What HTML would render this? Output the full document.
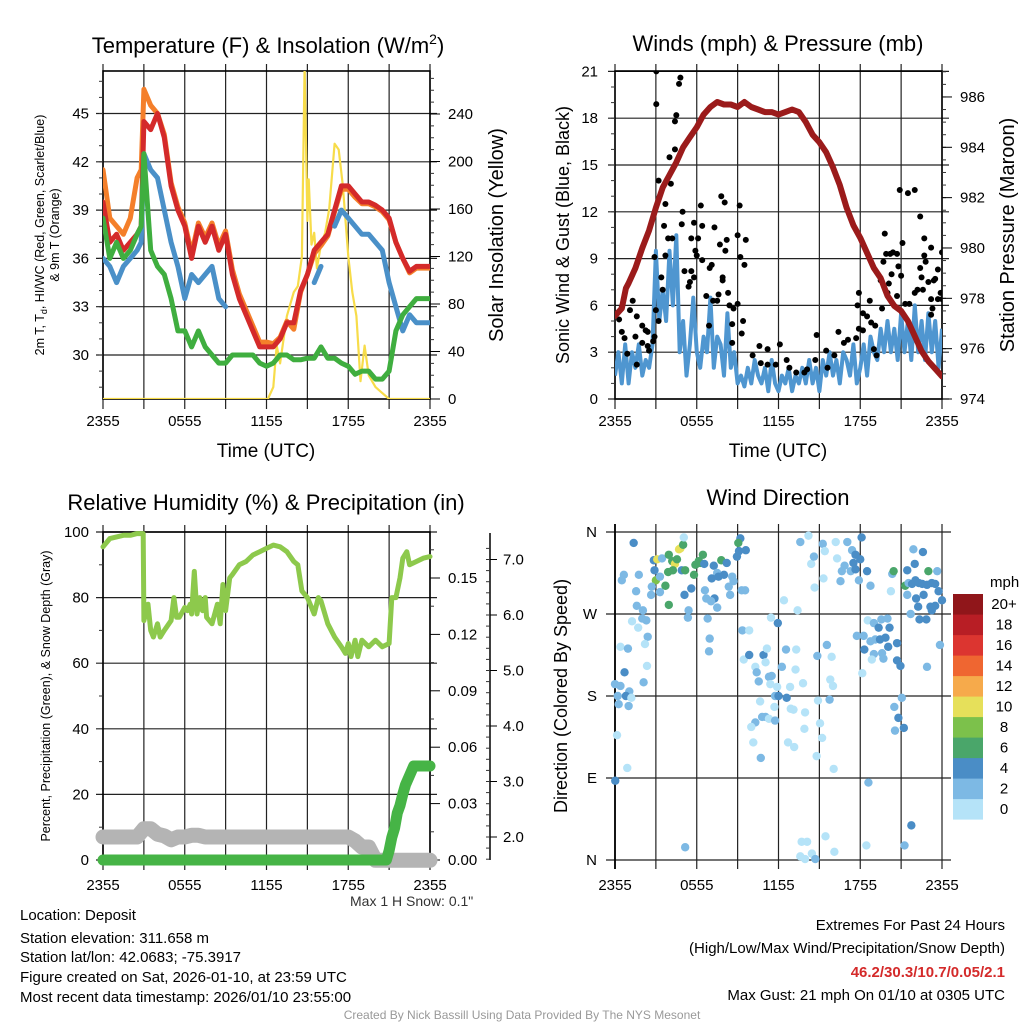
<!DOCTYPE html>
<html><head><meta charset="utf-8"><style>
html,body{margin:0;padding:0;background:#fff}
svg{display:block;font-family:"Liberation Sans",Arial,sans-serif}
</style></head><body>
<svg id="fig" width="1024" height="1024" viewBox="0 0 1024 1024" xmlns="http://www.w3.org/2000/svg">
<defs>
<clipPath id="c1"><rect x="103" y="71" width="327" height="328"/></clipPath>
<clipPath id="c2"><rect x="615" y="71" width="327" height="328"/></clipPath>
<clipPath id="c3"><rect x="90" y="520" width="355" height="355"/></clipPath>
<clipPath id="c4"><rect x="605" y="524" width="348" height="345"/></clipPath>
</defs>
<g id="p1"></g>
<g id="p2"></g>
<g id="p3"></g>
<g id="p4"></g>

<text x="268" y="53" font-size="22" text-anchor="middle">Temperature (F) &amp; Insolation (W/m<tspan font-size="14" dy="-9">2</tspan><tspan dy="9">)</tspan></text>
<text x="778" y="51" font-size="22" text-anchor="middle">Winds (mph) &amp; Pressure (mb)</text>
<text x="266" y="510" font-size="22" text-anchor="middle">Relative Humidity (%) &amp; Precipitation (in)</text>
<text x="778" y="505" font-size="22" text-anchor="middle">Wind Direction</text>

<text x="266" y="457" font-size="19" text-anchor="middle">Time (UTC)</text>
<text x="778" y="457" font-size="19" text-anchor="middle">Time (UTC)</text>

<text transform="translate(44,235) rotate(-90)" font-size="12.5" text-anchor="middle">2m T, T<tspan font-size="9" dy="3">d</tspan><tspan dy="-3">, HI/WC (Red, Green, Scarlet/Blue)</tspan></text>
<text transform="translate(59,235) rotate(-90)" font-size="12.5" text-anchor="middle">&amp; 9m T (Orange)</text>
<text transform="translate(503,235) rotate(-90)" font-size="20" text-anchor="middle">Solar Insolation (Yellow)</text>
<text transform="translate(569,235) rotate(-90)" font-size="18" text-anchor="middle">Sonic Wind &amp; Gust (Blue, Black)</text>
<text transform="translate(1014,235) rotate(-90)" font-size="20" text-anchor="middle">Station Pressure (Maroon)</text>
<text transform="translate(50,696) rotate(-90)" font-size="12.5" text-anchor="middle">Percent, Precipitation (Green), &amp; Snow Depth (Gray)</text>
<text transform="translate(567,696) rotate(-90)" font-size="18" text-anchor="middle">Direction (Colored By Speed)</text>

<text x="350" y="906" font-size="14" fill="#333">Max 1 H Snow: 0.1"</text>
<g font-size="15">
<text x="20" y="920">Location: Deposit</text>
<text x="20" y="943">Station elevation: 311.658 m</text>
<text x="20" y="962">Station lat/lon: 42.0683; -75.3917</text>
<text x="20" y="982">Figure created on Sat, 2026-01-10, at 23:59 UTC</text>
<text x="20" y="1002">Most recent data timestamp: 2026/01/10 23:55:00</text>
</g>
<g font-size="15" text-anchor="end">
<text x="1005" y="930">Extremes For Past 24 Hours</text>
<text x="1005" y="953">(High/Low/Max Wind/Precipitation/Snow Depth)</text>
<text x="1005" y="977" fill="#d42a2a" font-weight="bold">46.2/30.3/10.7/0.05/2.1</text>
<text x="1005" y="1000">Max Gust: 21 mph On 01/10 at 0305 UTC</text>
</g>
<text x="522" y="1019" font-size="12" fill="#999" text-anchor="middle">Created By Nick Bassill Using Data Provided By The NYS Mesonet</text>
</svg>
<script>
// ---------- data ----------
const timeLabels = ["2355","0555","1155","1755","2355"];
const tempTicks = [30,33,36,39,42,45];
const solarTicks = [0,40,80,120,160,200,240];
const windTicks = [0,3,6,9,12,15,18,21];
const presTicks = [974,976,978,980,982,984,986];
const rhTicks = [0,20,40,60,80,100];
const precipTicks = ["0.00","0.03","0.06","0.09","0.12","0.15"];
const snowTicks = ["2.0","3.0","4.0","5.0","6.0","7.0"];
const dirLabels = ["N","E","S","W","N"];
const speedLabels = ["0","2","4","6","8","10","12","14","16","18","20+"];

const tempHours = [0,0.5,1,1.5,2,2.5,2.8,3,3.5,4,4.5,5,5.5,6,6.5,7,7.5,8,8.5,9,9.5,10,10.5,11,11.5,12,12.5,13,13.5,14,14.5,15,15.5,16,16.5,17,17.5,18,18.5,19,19.5,20,20.5,21,21.5,22,22.5,23,23.5,24];
const tempRed = [39.5,37,37.5,36.5,37,37.5,38,44.5,44,45,43.5,40.5,39,38,36,38,37,38,36.5,37.5,35,33.5,32.5,31.5,30.5,30.5,30.5,31,32,32,34,35,36.5,37,37.5,39,40.5,40.5,40,39.5,39.5,39.3,39,38.5,37,36,35.2,35.5,35.5,35.5];
const tempOrange = [41.5,38.5,38,37.5,38.5,41,41.5,46.5,45.5,45,43.7,40.7,39.2,38.2,36.3,38.2,37.3,38.2,36.8,37.7,35.3,33.8,32.8,31.8,30.8,30.8,30.7,31.1,32.1,31.6,33.9,35,36.3,36.8,37.4,38.9,40.3,40.3,39.8,39.4,39.4,39.2,38.9,38.4,37,36,35.1,35.4,35.4,35.4];
const tempBlue = [36,35.5,34.5,35.5,36,36.5,37,42.5,41.5,41,39,37,35.5,33.5,35,34.5,35,35.5,33.5,33,null,null,null,null,null,null,null,null,null,null,null,null,34.5,35.5,null,38,39,38.5,38,37.5,37.5,37,36.5,34.5,33,31.5,32.5,32,32,32];
const tempGreen = [38.5,36,37,36,36.5,37.5,38,42.5,36.5,35.5,35,33.5,31.5,31.5,30.5,31.5,30.5,30,29.5,29.5,30,30,30,30,29.5,29.3,29.5,30,30,29.7,29.7,29.8,29.8,30.5,29.8,29.8,29.5,29.3,28.8,29,29,28.5,28.5,29,31.5,32.5,33,33.5,33.5,33.5];
const solarHours = [0,12.1,12.5,12.75,13,13.5,14,14.3,14.6,14.8,15,15.1,15.3,15.5,15.7,16,16.3,16.6,17,17.3,17.6,18,18.3,18.6,18.9,19.2,19.5,20,20.5,21,24];
const solarVals = [0,0,10,45,30,70,90,95,120,280,150,185,130,140,110,130,140,160,215,210,180,120,90,70,15,45,20,10,5,0,0];

const presHours = [0,0.5,0.8,1,1.5,2,2.5,3,3.5,4,4.5,5,5.5,6,6.5,7,7.5,8,8.5,9,9.5,10,10.5,11,11.5,12,12.5,13,13.5,14,14.5,15,15.5,16,16.5,17,17.5,18,18.5,19,19.5,20,20.5,21,21.5,22,22.5,23,23.5,24];
const presVals = [977.3,977.6,978.4,978.6,979.2,980,980.7,981.6,982.4,982.9,983.4,984,984.4,984.8,985.3,985.6,985.8,985.7,985.7,985.6,985.8,985.6,985.5,985.4,985.4,985.3,985.4,985.5,985.4,985,984.5,984.2,983.8,983.2,982.5,981.6,980.9,980.4,979.8,979.2,978.8,978.1,977.7,977.5,977.1,976.5,975.9,975.5,975.2,974.9];
const windVals = [1.5,3,1,3.5,1,3,2,3.5,1.5,2.5,2,3.5,9.5,5,7,5,9.5,6,10.5,3,5,1.5,3.5,6.5,3,2,4,3,6.5,2,4,3.5,1.5,5.5,2,3,1,1.5,0.8,2,1,2.5,1.5,1,2,0.5,2.5,1,0.5,1.5,1,2,0.5,1.5,1,2,1,2.5,1,2,0.5,2.5,1.5,3,1.5,2.5,1,3,2.5,1.5,3.5,1,2,3.5,1.5,4,3,2.5,4.5,3,5,3,4.5,2.5,5.5,3,5,2.5,6,3,5,2.5,5.5,3,5,2,4.5];
const gustHours = [3.03,3.03,4.8,4.7,4.5,4.4,4.4,4.0,3.2,4.1,3.7,3.6,4.96,6.3,7.8,8.05,9.15,5.8,6.4,7.3,9,9.6,8.2,4.9,3.9,4.2,5.6,6.1,7.7,8.1,9.2,9.5,3.7,2.9,5.9,6,6.4,7.1,6.95,5.1,5.6,5.8,5.5,5.4,7.9,7.9,3.4,3.5,8.3,7.6,6.7,7.2,7.5,8.4,8.7,9,1.3,0.5,1.1,3,3.2,1.6,2,2.25,2.4,0.5,0.7,1.5,2.9,2,2.4,2.8,2.5,0.3,0.9,1.6,6.9,8.6,9.3,9.4,8.6,10.1,10.6,11.2,12.1,10.7,11.2,11.8,12.6,12.8,13.3,13.9,14.1,14.8,14.7,15.5,15.6,16.1,16.4,16.8,17.1,17.7,17.9,18.2,17.9,17.8,18.2,18.5,18.7,18.8,19.1,19,19.2,19.6,19.5,19.7,19.8,19.9,20.2,20.4,20.7,20.8,21,20.1,20,20.3,20.7,20.9,21.5,22,22.4,22.7,21.1,23.2,22.7,22.4,22.8,22.5,23,23.5,24,23.7,23.4,23.9,22.2,22.6,22,23.2,23.7,24,21.3,21.6,23.3,23.2];
const gustVals = [21,18.9,20.6,20.2,18.2,17.8,16,15.5,14,13.8,12.5,11.1,12,12.4,13,12.6,12.4,11.3,11.1,11,10.5,10.2,10.2,11.2,10.3,10.3,10.3,10.3,9.9,9.5,9.1,8.6,9.2,9.1,9.5,9.2,8.9,8.6,8.4,8.2,8.2,7.8,7.5,7.2,7.8,7.6,7.8,7,6.8,6.7,6.6,6.3,6.3,6,5.8,6.1,6.3,5.9,5.7,5.7,5,5.3,4.7,4.4,4.3,4.3,3.9,4,4,3.6,3.4,3.7,3.1,5.1,2.9,2.2,4.7,4.8,4.2,5,3.6,2.8,3.4,3.2,3.5,2.3,2.2,2.2,2.5,2,1.7,1.7,1.9,4.1,2.5,3.1,2,2.8,4.3,3.6,3.8,3.9,4.5,4.4,6.8,6,5.5,5.3,6.3,4.9,4.7,3.2,2.8,5.8,7.6,8.8,10.6,9.3,9.3,9.4,9.3,8.5,7.9,7.4,6.8,8,6.6,13.4,13.2,13.4,11.7,10.3,10,9.7,9.2,8.4,8.8,7.8,7.5,7.7,9.4,8.3,7.6,6.8,7,7,6.8,6.4,6.4,6.4,6.1,6.1,5.8,5.4];

const rhHours = [0,0.5,1,1.5,2,2.5,2.95,3.0,3.3,3.5,3.7,4,4.2,4.5,5,5.2,5.4,5.6,6,6.2,6.4,6.5,6.7,6.9,7.1,7.3,7.5,7.6,8,8.4,8.6,8.8,9,9.3,9.5,10,10.5,11,11.5,12,12.5,13,13.5,14,14.3,14.6,15,15.5,15.8,16,16.5,17,17.5,17.8,18,18.2,18.5,18.7,19,19.5,20,20.5,21,21.2,21.5,21.8,22,22.3,22.5,23,23.5,24];
const rhVals = [95.5,98,98.5,99,99,99.5,99.5,73,78,70,68,72,68,70,73,80,74,74,77,76,78,75,88,75,80,76,80,74,72,78,72,84,76,86,87,90,91,93,94,95,96,95.5,94,91,90,82,80,75,80,79,72,68,65,63,66,62,67,62,67,65,67,65,66,80,80,86,92,94,90,91,92,92.5];
const precipHours = [0,20.8,21,21.2,21.4,21.6,21.8,22,22.2,22.5,22.8,23,24];
const precipVals = [0,0,0.005,0.012,0.017,0.025,0.029,0.035,0.04,0.045,0.05,0.05,0.05];
const snowHours = [0,2.5,3,3.5,4,4.5,5,5.5,6,6.5,7,7.5,18,18.5,19,19.5,20,24];
const snowVals = [2.0,2.0,2.15,2.15,2.05,2.02,1.95,2.0,2.0,2.03,2.03,2.0,2.0,1.93,1.82,1.82,1.58,1.58];

const dirHours = [1.37,0.65,0.5,1.75,1.55,1.6,2.05,1.25,1.7,2.0,2.3,2.4,2.2,0.4,0.95,2.35,2.1,0.7,0,0.4,1.05,0.8,0.2,0.27,1.0,1.2,0.15,0.9,0.02,2.9,2.85,3.1,3.45,3.95,4.2,4.4,4.55,4.7,4.8,5.0,5.05,3.9,4.25,4.9,5.15,3.0,3.7,3.3,2.7,2.65,3.3,3.95,5.1,5.6,5.4,5.35,5.8,5.9,6.15,6.45,6.25,6.55,7.25,7.5,7.8,8.2,7.1,7.6,8.0,8.6,8.7,8.35,6.6,7.3,6.7,7.05,7.5,6.8,8.45,9.3,9.55,8.95,9.1,9.2,9.6,9.05,6.95,6.9,9.35,9.85,5.15,11.45,11.95,12.4,13.4,9.45,9.85,10.3,10.4,10.55,10.9,11.15,11.05,11.3,11.5,11.4,11.9,11.75,12.0,12.25,12.55,12.85,13.25,13.3,13.8,12.6,12.9,13.1,10.65,11.7,11.05,10.8,11.3,11.75,10.3,10.0,13.95,13.9,10.15,10.7,12.7,13.15,13.7,14.1,14.45,14.7,13.95,13.6,15.45,16.1,13.6,14.2,14.4,14.6,15.25,15.4,14.65,15.3,16.2,17.05,16.3,16.85,16.65,17.3,16.55,17.4,17.65,17.5,17.65,18.1,18.0,17.9,18.5,18.75,14.85,15.55,15.9,15.8,16.0,14.9,15.75,15.05,15.2,14.8,16.05,18.45,18.6,18.55,19.0,19.55,19.35,20.15,20.0,17.75,18.25,18.75,19.1,19.45,19.85,19.0,19.6,19.7,20.05,20.7,20.7,20.95,18.3,18.85,18.15,20.25,20.35,20.45,21.45,21.9,22.6,22.0,23.0,23.65,21.3,21.45,21.55,21.8,22.05,22.3,22.55,22.9,23.25,23.5,23.75,24.0,22.1,22.65,22.25,23.15,23.25,23.5,21.7,22.35,22.85,23.85,22.9,21.05,20.5,20.8,20.55,21.2,21.75,21.25];
const dirDeg = [348,313,307,313,295,279,274,262,255,265,263,245,237,234,232,213,195,206,193,191,185,180,180,171,169,178,137,101,87,318,329,330,331,335,328,325,330,341,342,346,354,316,318,318,318,307,301,311,300,291,294,280,291,298,274,266,313,324,328,335,326,325,323,315,329,326,309,311,313,311,306,300,296,287,287,284,277,265,291,296,296,333,339,353,340,348,243,229,252,252,14,266,260,285,274,220,225,212,206,196,225,232,217,201,202,193,190,180,180,212,231,190,209,231,194,178,166,165,174,168,157,157,155,153,151,146,162,144,129,112,129,124,20,20,7,1,1,4,26,9,349,356,325,333,347,339,299,309,349,349,331,323,317,317,306,340,335,326,319,354,330,307,317,301,224,236,223,198,191,175,176,150,134,114,100,16,85,263,260,264,255,255,265,246,246,240,242,242,244,226,227,221,234,238,219,213,231,220,205,295,314,317,318,341,338,325,317,317,301,291,304,303,307,304,303,302,304,303,295,285,287,291,278,278,274,279,270,264,264,236,212,178,168,156,142,145,38,16];
const dirSpeed = [5,3,3,3,3,3,3,1,1,3,3,3,1,1,3,1,3,5,3,3,3,5,3,3,3,1,1,1,5,5,5,11,3,7,7,11,7,11,11,7,1,7,7,5,7,9,7,3,3,3,3,7,5,5,3,3,7,7,7,7,7,5,5,3,7,5,5,5,5,3,3,3,3,5,3,3,3,3,3,3,3,5,5,5,5,7,3,3,3,1,3,1,5,1,1,1,5,1,3,3,5,1,1,3,3,1,1,3,5,3,3,1,1,1,1,5,1,1,1,1,3,3,1,3,3,1,1,1,1,3,1,1,1,1,1,3,1,1,1,1,3,1,1,3,3,1,1,1,1,3,1,3,3,3,3,3,5,5,5,5,5,3,5,3,3,3,1,1,1,1,3,1,1,1,1,1,3,1,3,3,5,5,3,3,3,3,3,5,5,3,3,3,5,5,5,5,5,1,1,1,3,7,5,3,5,5,7,3,7,3,3,5,5,5,5,5,5,5,5,5,5,5,5,5,5,5,3,5,5,3,3,3,3,5,3,5,5,3,3];

// ---------- helpers ----------
const NS = "http://www.w3.org/2000/svg";
function mk(parent, tag, attrs){const e=document.createElementNS(NS,tag);for(const k in attrs)e.setAttribute(k,attrs[k]);parent.appendChild(e);return e;}
function linePath(xs, ys, fx, fy){let d="",pen=false;for(let i=0;i<xs.length;i++){if(ys[i]===null||ys[i]===undefined){pen=false;continue;}d+=(pen?"L":"M")+fx(xs[i]).toFixed(1)+" "+fy(ys[i]).toFixed(1);pen=true;}return d;}
const X0=103, XW=327;
function xL(t){return X0+t*XW/24;}
function xR(t){return 615+t*XW/24;}
const lbl=15;

function frame(g, x0, y0, w, h, xs, hl, vl, xTickY){
  // gridlines (extending outward like ticks)
  for(let i=0;i<=8;i++){const x=x0+i*w/8;const v=mk(g,"line",{x1:x,x2:x,y1:y0-7,y2:y0+h+10,stroke:"#222","stroke-width":1.2});
    
    }
  hl.forEach(y=>{const l=mk(g,"line",{x1:x0-7,x2:x0+w+7,y1:y,y2:y,stroke:"#222","stroke-width":1.2});
    
    });
  const r=mk(g,"rect",{x:x0,y:y0,width:w,height:h,fill:"none",stroke:"#000","stroke-width":1.6});
  
  
  timeLabels.forEach((s,i)=>{const t=mk(g,"text",{x:x0+i*w/4,y:xTickY,"font-size":lbl,"text-anchor":"middle"});t.textContent=s;
    
    });
}
function minor(g, x, ys, dir){ys.forEach(y=>{mk(g,"line",{x1:x,x2:x+dir*4,y1:y,y2:y,stroke:"#333","stroke-width":1});});}
function ylab(g,x,y,s,anchor){const t=mk(g,"text",{x:x,y:y+5,"font-size":lbl,"text-anchor":anchor});t.textContent=s;
  
  return t;}

// ---------- panel 1 ----------
(function(){
  const g=document.getElementById("p1");
  const yT=v=>355-(v-30)*16.1, yS=v=>399-v*1.1875;
  frame(g,103,71,327,328,[],tempTicks.map(yT),[],426);
  const mins=[];for(let v=28;v<=47;v++)mins.push(yT(v));minor(g,103,mins.filter(y=>y>71&&y<399),-1);
  const smin=[];for(let v=0;v<=270;v+=10)smin.push(yS(v));minor(g,430,smin,1);
  tempTicks.forEach(v=>ylab(g,89,yT(v),String(v),"end"));
  solarTicks.forEach(v=>{mk(g,"line",{x1:430,x2:440,y1:yS(v),y2:yS(v),stroke:"#000"});ylab(g,448,yS(v),String(v),"start");});
  const c=mk(g,"g",{"clip-path":"url(#c1)"});
  const series=[["solar-line",solarHours,solarVals,"#f7dc4a",2.2,yS],["orange-9m-temp-line",tempHours,tempOrange,"#f47f2a",5,yT],["red-2m-temp-line",tempHours,tempRed,"#d42a2a",5,yT],["blue-windchill-line",tempHours,tempBlue,"#4a90c8",5,yT],["green-dewpoint-line",tempHours,tempGreen,"#3fae3f",5,yT]];
  series.forEach(s=>{const p=mk(c,"path",{d:linePath(s[1],s[2],xL,s[5]),fill:"none",stroke:s[3],"stroke-width":s[4],"stroke-linejoin":"round","stroke-linecap":"round"});
    
    });
})();

// ---------- panel 2 ----------
(function(){
  const g=document.getElementById("p2");
  const yW=v=>399-v*15.6, yP=v=>399-(v-974)*25.17;
  frame(g,615,71,327,328,[],windTicks.map(yW),[],426);
  const mins=[];for(let v=1;v<21;v++)mins.push(yW(v));minor(g,615,mins,-1);
  const pm=[];for(let v=974;v<=987;v+=0.5)pm.push(yP(v));minor(g,942,pm.filter(y=>y>71),1);
  windTicks.forEach(v=>ylab(g,598,yW(v),String(v),"end"));
  presTicks.forEach(v=>{mk(g,"line",{x1:942,x2:952,y1:yP(v),y2:yP(v),stroke:"#000"});ylab(g,960,yP(v),String(v),"start");});
  const c=mk(g,"g",{"clip-path":"url(#c2)"});
  const wh=windVals.map((v,i)=>i*0.25);
  const wl=mk(c,"path",{d:linePath(wh,windVals,xR,yW),fill:"none",stroke:"#4f96d0","stroke-width":4,"stroke-linejoin":"round"});
  
  
  gustHours.forEach((t,i)=>{const d=mk(c,"circle",{cx:xR(t),cy:yW(gustVals[i]),r:3,fill:"#000"});
    
    });
  const pl=mk(c,"path",{d:linePath(presHours,presVals,xR,yP),fill:"none",stroke:"#9b1b1b","stroke-width":6,"stroke-linejoin":"round","stroke-linecap":"round"});
  
  
})();

// ---------- panel 3 ----------
(function(){
  const g=document.getElementById("p3");
  const yH=v=>860-v*3.28, yPr=v=>860-v*1880, ySn=v=>837-(v-2)*55.5;
  frame(g,103,532,327,328,[],rhTicks.map(yH),[],890);
  const mins=[];for(let v=10;v<100;v+=20)mins.push(yH(v));minor(g,103,mins,-1);
  const pm=[];for(let v=0.015;v<0.17;v+=0.03)pm.push(yPr(v));minor(g,430,pm,1);
  rhTicks.forEach(v=>ylab(g,89,yH(v),String(v),"end"));
  precipTicks.forEach(s=>{const y=yPr(parseFloat(s));mk(g,"line",{x1:430,x2:440,y1:y,y2:y,stroke:"#000"});ylab(g,448,y,s,"start");});
  const ax=mk(g,"line",{x1:490,x2:490,y1:533,y2:860,stroke:"#000","stroke-width":1.5});
  
  
  for(let v=1.6;v<=7.4;v+=0.2){const y=ySn(v);if(y<535)continue;mk(g,"line",{x1:486,x2:490,y1:y,y2:y,stroke:"#333"});}
  snowTicks.forEach(s=>{const y=ySn(parseFloat(s));mk(g,"line",{x1:490,x2:497,y1:y,y2:y,stroke:"#000"});ylab(g,503,y,s,"start");});
  const c=mk(g,"g",{"clip-path":"url(#c3)"});
  const sl=mk(c,"path",{d:linePath(snowHours,snowVals,xL,ySn),fill:"none",stroke:"#b4b4b4","stroke-width":15,"stroke-linejoin":"round","stroke-linecap":"round"});
  
  
  const pr=mk(c,"path",{d:linePath(precipHours,precipVals,xL,yPr),fill:"none",stroke:"#46b446","stroke-width":11,"stroke-linejoin":"round","stroke-linecap":"round"});
  
  
  const rh=mk(c,"path",{d:linePath(rhHours,rhVals,xL,yH),fill:"none",stroke:"#8dc94c","stroke-width":5,"stroke-linejoin":"round","stroke-linecap":"round"});
  
  
})();

// ---------- panel 4 ----------
(function(){
  const g=document.getElementById("p4");
  const yD=v=>860-v*328/360;
  const hl=[0,90,180,270,360].map(yD);
  for(let i=0;i<=8;i++){const x=615+i*327/8;const v=mk(g,"line",{x1:x,x2:x,y1:524,y2:869,stroke:"#222","stroke-width":1.2});
    
    }
  hl.forEach(y=>{const l=mk(g,"line",{x1:606,x2:951,y1:y,y2:y,stroke:"#222","stroke-width":1.2});
    
    });
  mk(g,"line",{x1:615,x2:615,y1:524,y2:869,stroke:"#000","stroke-width":1.8});
  timeLabels.forEach((s,i)=>{const t=mk(g,"text",{x:615+i*327/4,y:890,"font-size":lbl,"text-anchor":"middle"});t.textContent=s;
    
    });
  dirLabels.forEach((s,i)=>ylab(g,597,yD(i*90),s,"end"));
  const cols=["#b5e3f8","#7db9e4","#4a8dc6","#4aa66a","#7cc14b","#e6e05a","#f6aa4b","#ef6631","#dc3530","#b81e25","#90161a"];
  const c=mk(g,"g",{"clip-path":"url(#c4)"});
  dirHours.forEach((t,i)=>{const k=Math.min(10,Math.floor(dirSpeed[i]/2));
    const d=mk(c,"circle",{cx:xR(t),cy:yD(dirDeg[i]),r:4.2,fill:cols[k]});
    
    });
  const cb=mk(g,"g",{});
  
  
  const t0=mk(cb,"text",{x:990,y:587,"font-size":lbl});t0.textContent="mph";
  speedLabels.forEach((s,i)=>{const j=10-i;const y=594+j*20.5;
    mk(cb,"rect",{x:953,y:y,width:30,height:20.6,fill:cols[i]});
    const t=mk(cb,"text",{x:1004,y:y+15,"font-size":lbl,"text-anchor":"middle"});t.textContent=s;
    
    });
})();
</script>
</body></html>
